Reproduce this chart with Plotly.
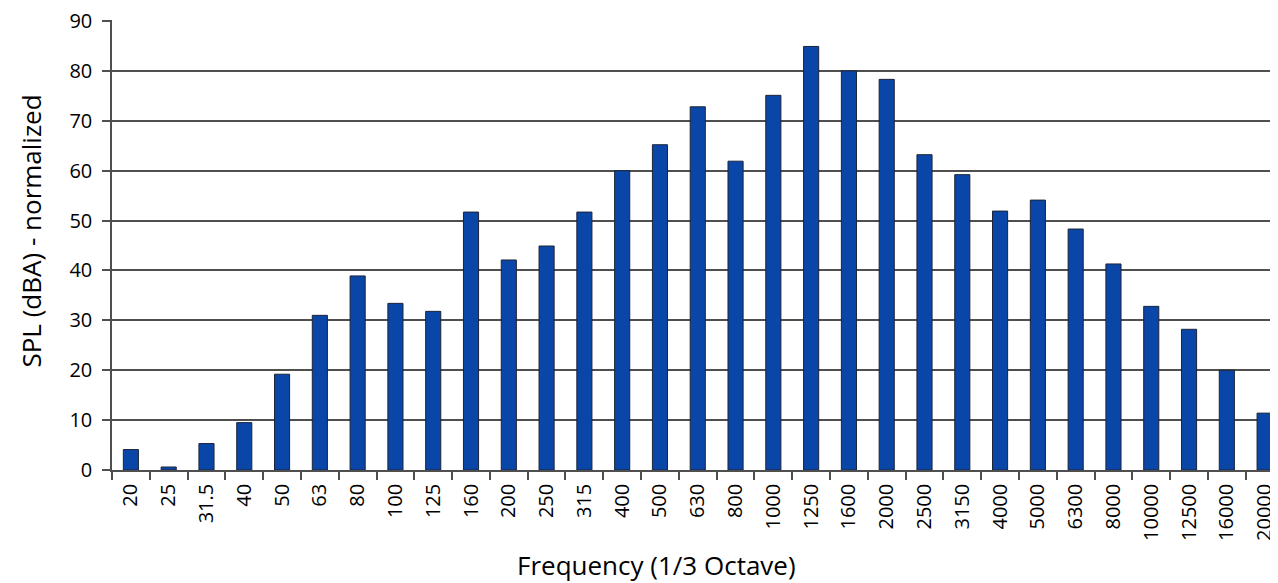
import plotly.graph_objects as go

frequencies = ["20", "25", "31.5", "40", "50", "63", "80", "100", "125", "160",
               "200", "250", "315", "400", "500", "630", "800", "1000", "1250", "1600",
               "2000", "2500", "3150", "4000", "5000", "6300", "8000", "10000", "12500",
               "16000", "20000"]
spl_values = [4.1, 0.6, 5.3, 9.5, 19.2, 31.0, 38.9, 33.4, 31.8, 51.7,
              42.1, 44.9, 51.7, 60.0, 65.2, 72.8, 61.9, 75.1, 84.9, 80.0,
              78.3, 63.2, 59.2, 51.9, 54.1, 48.3, 41.3, 32.8, 28.2, 20.0, 11.4]
y_ticks = [0, 10, 20, 30, 40, 50, 60, 70, 80, 90]

FONT = "Open Sans"
GRID = "#4F4F4F"

fig = go.Figure()
fig.add_trace(go.Bar(
    x=frequencies,
    y=spl_values,
    marker=dict(color="#0A46A8", line=dict(color="#1C2438", width=1)),
    width=0.4,
    showlegend=False,
))

fig.update_layout(
    width=1270,
    height=575,
    margin=dict(l=104, r=0, t=12, b=113),
    paper_bgcolor="white",
    plot_bgcolor="white",
    font=dict(family=FONT, size=20, color="#000000"),
    xaxis=dict(
        type="category",
        range=[-0.5, 30.354],
        tickangle=-90,
        ticks="outside",
        ticklen=8,
        tickwidth=1.5,
        tickcolor=GRID,
        tickson="boundaries",
        showgrid=False,
        showline=True,
        linecolor=GRID,
        linewidth=1.5,
        tickfont=dict(family=FONT, size=20),
        ticklabelstandoff=4,
        fixedrange=True,
    ),
    yaxis=dict(
        range=[0, 90.2],
        tickvals=y_ticks,
        ticks="outside",
        ticklen=8,
        tickwidth=1.5,
        tickcolor=GRID,
        showgrid=True,
        gridcolor=GRID,
        gridwidth=1.5,
        showline=True,
        linecolor=GRID,
        linewidth=1.5,
        zeroline=False,
        tickfont=dict(family=FONT, size=20),
        ticklabelstandoff=6,
        ticklabeloverflow="allow",
        fixedrange=True,
    ),
    annotations=[
        dict(text="Frequency (1/3 Octave)", xref="paper", yref="paper",
             x=0.4666, y=-0.2108, xanchor="center", yanchor="middle",
             showarrow=False, font=dict(family=FONT, size=26)),
        dict(text="SPL (dBA) - normalized", xref="paper", yref="paper",
             x=-0.0703, y=0.530, xanchor="center", yanchor="middle",
             textangle=-90, showarrow=False, font=dict(family=FONT, size=26)),
    ],
)

fig.write_html("out.html")
